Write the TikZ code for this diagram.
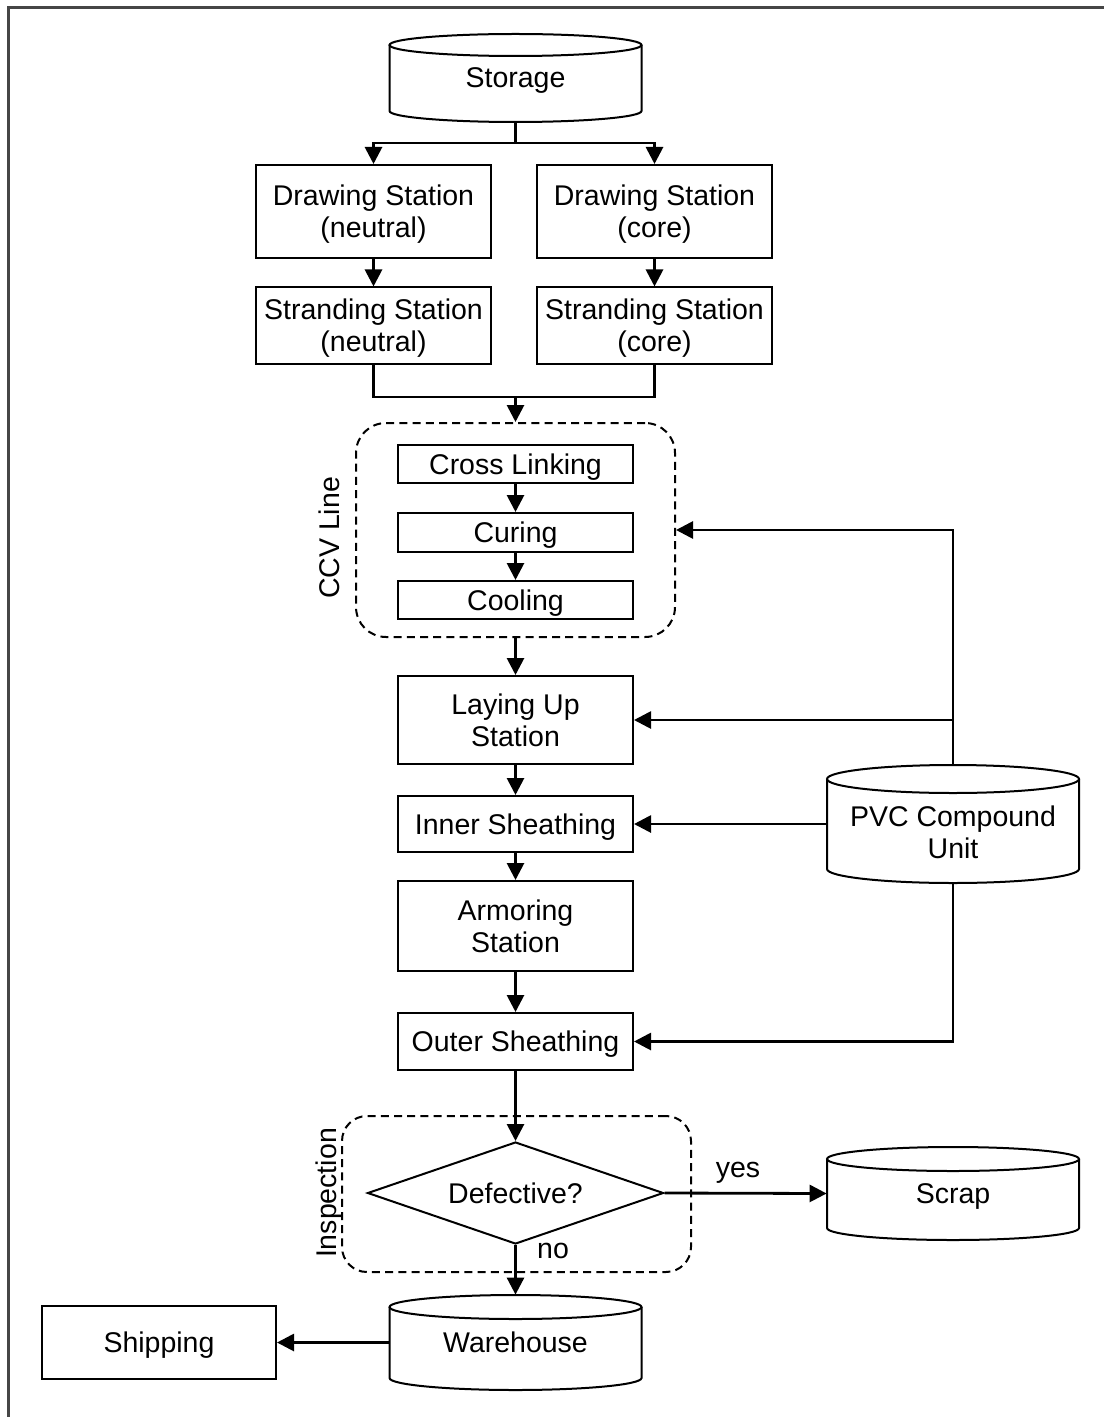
\documentclass[tikz,border=0pt]{standalone}
\usepackage{fontspec}
\setmainfont{Liberation Sans}
\usetikzlibrary{shapes.geometric,arrows.meta,calc}
\tikzset{
  base/.style={font=\fontsize{14.25}{16}\selectfont, align=center, inner sep=0pt, text depth=0pt},
  procbox/.style={base, draw, line width=1pt, minimum width=117.5pt},
  cylnode/.style={base, minimum width=126pt},
  groupbox/.style={draw, line width=1pt, dash pattern=on 4pt off 2.6pt, inner sep=0pt},
  decision/.style={base, draw, diamond, aspect=2.9, line width=1pt, minimum width=148pt, minimum height=51pt},
  cylline/.style={line width=1pt},
  conn/.style={line width=1.4pt},
  arr/.style={conn, -{Triangle[length=8.5pt,width=8.5pt]}},
  lbl/.style={base},
}
\newcommand\cylshape[5]{%
  \draw[cylline] (#1,#2+#5) ellipse[x radius=#4*0.5pt, y radius=#5*0.5pt];
  \draw[cylline] (#1-#4,#2+#5) -- (#1-#4,#3-#5)
     arc[start angle=180, end angle=360, x radius=#4*0.5pt, y radius=#5*0.5pt]
     -- (#1+#4,#2+#5);
}
\begin{document}
\begin{tikzpicture}[x=0.5pt, y=-0.5pt]
\useasboundingbox (0,0) rectangle (1104,1417);
\draw[line width=1.5pt, color={rgb,255:red,70;green,70;blue,70}] (8,1417) -- (8,8) -- (1104,8);

% cylinders
\cylshape{515.5}{34}{122}{126}{11}
\node[cylnode, minimum height=44pt] (storage) at (515.5,78) {Storage};

\cylshape{953}{765}{883}{126}{14}
\node[cylnode, minimum height=59pt] (pvc) at (953,824) {};
\node[lbl] (pvctext) at (953,832) {PVC Compound\\Unit};

\cylshape{953}{1147}{1240}{126}{12}
\node[cylnode, minimum height=46.5pt] (scrap) at (953,1193.5) {Scrap};

\cylshape{515.5}{1295}{1390}{126}{12}
\node[cylnode, minimum height=47.5pt] (ware) at (515.5,1342.5) {Warehouse};

% process boxes
\node[procbox, minimum height=46.5pt] (dn) at (373.5,211.5) {Drawing Station\\(neutral)};
\node[procbox, minimum height=46.5pt] (dc) at (654.5,211.5) {Drawing Station\\(core)};
\node[procbox, minimum height=38pt] (sn) at (373.5,325.5) {Stranding Station\\(neutral)};
\node[procbox, minimum height=38pt] (sc) at (654.5,325.5) {Stranding Station\\(core)};

\node[groupbox, minimum width=159.5pt, minimum height=107pt, rounded corners=15pt] (ccv) at (515.5,530) {};
\node[procbox, minimum height=19pt] (cross) at (515.5,464) {Cross Linking};
\node[procbox, minimum height=19.5pt] (curing) at (515.5,532.5) {Curing};
\node[procbox, minimum height=19pt] (cooling) at (515.5,600) {Cooling};
\node[lbl, rotate=90] (ccvlabel) at (329,538) {CCV Line};

\node[procbox, minimum height=44pt] (lay) at (515.5,720) {Laying Up\\Station};
\node[procbox, minimum height=28pt] (inner) at (515.5,824) {Inner Sheathing};
\node[procbox, minimum height=45pt] (armor) at (515.5,926) {Armoring\\Station};
\node[procbox, minimum height=28.5pt] (outer) at (515.5,1041.5) {Outer Sheathing};

\node[groupbox, minimum width=174.5pt, minimum height=78pt, rounded corners=12.5pt] (insp) at (516.5,1194) {};
\node[decision] (defect) at (515.5,1193) {Defective?};
\node[lbl, rotate=90] (insplabel) at (326,1193) {Inspection};

\node[procbox, minimum width=117pt, minimum height=36.5pt] (ship) at (159,1342.5) {Shipping};

% connectors
\coordinate (split) at (515.5,143);
\draw[conn] (storage.south) -- (split);
\draw[arr] (split) -| (dn.north);
\draw[arr] (split) -| (dc.north);
\draw[arr] (dn.south) -- (sn.north);
\draw[arr] (dc.south) -- (sc.north);
\coordinate (merge) at (515.5,397);
\draw[conn] (sn.south) |- (merge) -| (sc.south);
\draw[arr] (merge) -- (ccv.north);
\draw[arr] (cross.south) -- (curing.north);
\draw[arr] (curing.south) -- (cooling.north);
\draw[arr] (ccv.south) -- (lay.north);
\draw[arr] (lay.south) -- (inner.north);
\draw[arr] (inner.south) -- (armor.north);
\draw[arr] (armor.south) -- (outer.north);
\draw[arr] (outer.south) -- (defect.north);
\draw[arr] (defect.south) -- (ware.north);
\draw[arr] (defect.east) -- (scrap.west);
\draw[arr] (ware.west) -- (ship.east);
\draw[arr] (pvc.north) |- (ccv.east);
\draw[arr] (lay.east -| pvc.north) -- (lay.east);
\draw[arr] (inner.east -| pvc.west) -- (inner.east);
\draw[arr] (pvc.south) |- (outer.east);

\node[lbl] (yes) at (738,1170) {yes};
\node[lbl] (no) at (553,1251) {no};
\end{tikzpicture}
\end{document}
